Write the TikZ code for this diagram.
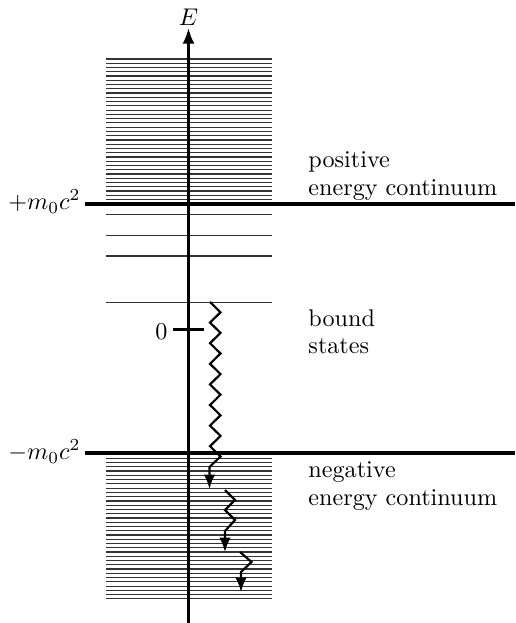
\documentclass[tikz,border=0pt]{standalone}
\usetikzlibrary{arrows.meta}
\begin{document}
\begin{tikzpicture}[x=0.4139pt,y=-0.4139pt,
  level/.style={line width=0.5pt, black!80},
  thickline/.style={line width=1.4pt},
  axisline/.style={line width=1.1pt},
  wiggle/.style={line width=0.9pt, line join=miter},
  tipend/.style={-{Latex[length=6pt,width=4.8pt]}},
  lbl/.style={inner sep=0pt, anchor=base west},
  mlbl/.style={inner sep=0pt, anchor=base east}]
\useasboundingbox (0,0) rectangle (515,623);
% continuum bands
\foreach \i in {0,...,33} {
  \draw[level] (106,{59+\i*4.26}) -- (272,{59+\i*4.26});
  \draw[level] (106,{458.3+\i*4.26}) -- (272,{458.3+\i*4.26});
}
% bound states
\foreach \y in {214.3,235.3,256,302.5} {
  \draw[level] (106,\y) -- (272,\y);
}
% thresholds
\coordinate (pa) at (85,204);
\coordinate (pb) at (515,204);
\coordinate (ma) at (85,453);
\coordinate (mb) at (515,453);
\draw[thickline] (pa) -- (pb);
\draw[thickline] (ma) -- (mb);
\node[mlbl] (plus) at (81,209.5) {$+m_0c^2$};
\node[mlbl] (minus) at (81,459.5) {$-m_0c^2$};
% axis
\coordinate (axbot) at (188.5,623);
\coordinate (axtop) at (188.5,28);
\draw[axisline, -{Latex[length=6.5pt,width=5pt]}] (axbot) -- (axtop);
\node (E) at (188.5,17.5) {$E$};
% zero tick
\coordinate (ta) at (172.5,329.5);
\coordinate (tb) at (204,329.5);
\draw[axisline] (ta) -- (tb);
\node[mlbl] (zero) at (168,339.5) {$0$};
% transitions
\draw[wiggle, tipend] (210,302) -- (220.5,312.3) -- (210,322.6) -- (220.5,332.9)
  -- (210,343.2) -- (220.5,353.5) -- (210,363.8) -- (220.5,374.1)
  -- (210,384.4) -- (220.5,394.7) -- (210,405) -- (220.5,415.3)
  -- (210,425.6) -- (220.5,435.9) -- (210,446.2) -- (220.5,456.5)
  -- (209.5,467) -- (209.5,489);
\draw[wiggle, tipend] (225,490) -- (235,500) -- (225,510) -- (235,520)
  -- (225,531) -- (225,552);
\draw[wiggle, tipend] (240,552) -- (251.5,562) -- (241,572) -- (241,592);
% texts
\node[lbl] (pos1) at (308,167.7) {positive};
\node[lbl] (pos2) at (308,195.7) {energy continuum};
\node[lbl] (bnd1) at (308,326.7) {bound};
\node[lbl] (bnd2) at (308,353.3) {states};
\node[lbl] (neg1) at (308,477.7) {negative};
\node[lbl] (neg2) at (308,505.7) {energy continuum};
\end{tikzpicture}
\end{document}
